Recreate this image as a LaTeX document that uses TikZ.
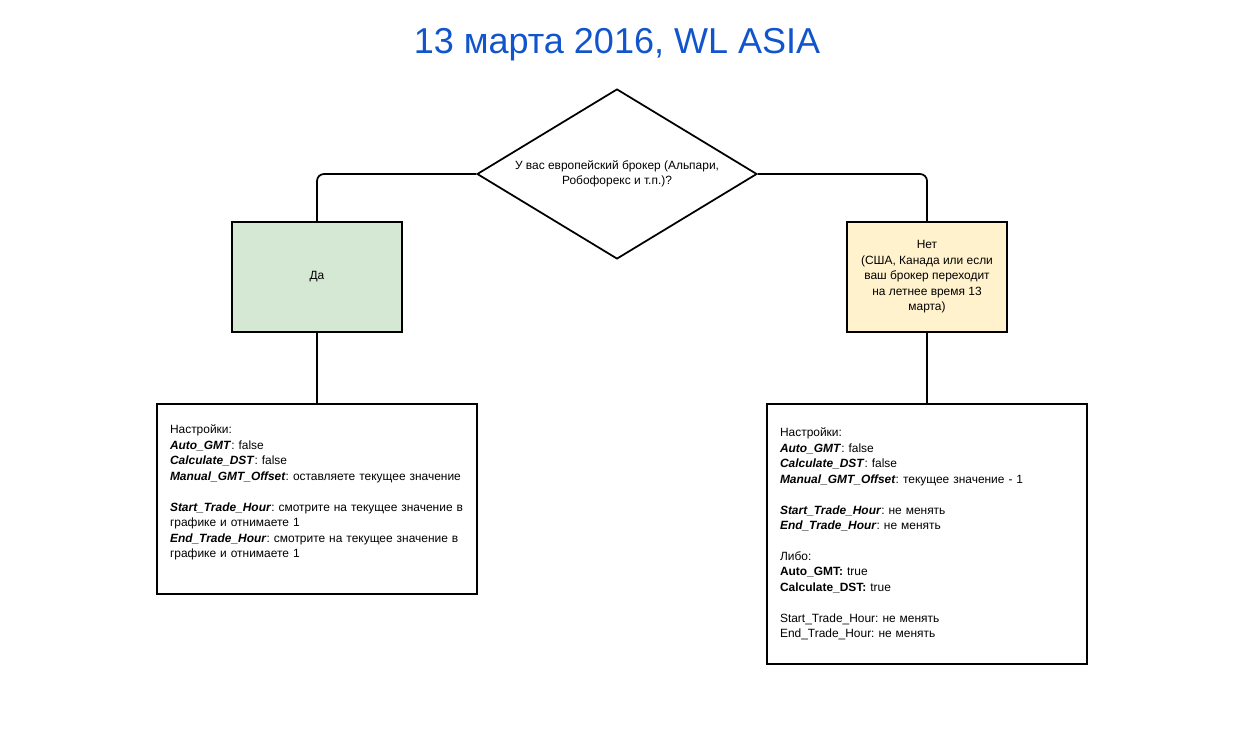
\documentclass[tikz,border=0pt]{standalone}
\usepackage{fontspec}
\setmainfont{Liberation Sans}
\usetikzlibrary{positioning,shapes.geometric}
\definecolor{titleblue}{HTML}{1155CC}
\definecolor{yesgreen}{HTML}{D5E8D4}
\definecolor{noyellow}{HTML}{FFF2CC}
\newcommand{\fld}[1]{\textbf{\textit{#1}}}
\frenchspacing

\begin{document}
\begin{tikzpicture}[x=0.02cm, y=-0.02cm,
  font=\fontsize{6.8}{8.8}\selectfont, line width=1pt,
  decision/.style={draw, diamond, aspect=1.647, minimum width=5.6cm, minimum height=3.4cm, inner sep=0pt, align=center},
  answer/.style={draw, minimum height=2.2cm, align=center},
  settings/.style={draw, text width=5.88cm, inner xsep=0.26cm, align=left}]
\useasboundingbox (0,0) rectangle (1258,750);

% Title
\node[font=\fontsize{20.5}{24}\selectfont, text=titleblue] (title) at (617,45) {13 марта 2016, WL ASIA};

% Question
\node[decision] (q) at (617,174) {У вас европейский брокер (Альпари,\\Робофорекс и т.п.)?};

% Answers
\node[answer, fill=yesgreen, minimum width=3.4cm] (yes) at (317,277) {Да};
\node[answer, fill=noyellow, minimum width=3.2cm] (no) at (927,277)
  {Нет\\(США, Канада или если\\ваш брокер переходит\\на летнее время 13\\марта)};

% Settings
\node[settings, minimum height=3.8cm] (setl) at (317,499) {%
  Настройки:\\
  \fld{Auto\_GMT}: false\\
  \fld{Calculate\_DST}: false\\
  \mbox{\fld{Manual\_GMT\_Offset}: оставляете текущее значение}\\[8.8pt]
  \mbox{\fld{Start\_Trade\_Hour}: смотрите на текущее значение в}\\
  графике и отнимаете 1\\
  \mbox{\fld{End\_Trade\_Hour}: смотрите на текущее значение в}\\
  графике и отнимаете 1\\
  \mbox{}};
\node[settings, minimum height=5.2cm] (setr) at (927,534) {%
  Настройки:\\
  \fld{Auto\_GMT}: false\\
  \fld{Calculate\_DST}: false\\
  \fld{Manual\_GMT\_Offset}: текущее значение - 1\\[8.8pt]
  \fld{Start\_Trade\_Hour}: не менять\\
  \fld{End\_Trade\_Hour}: не менять\\[8.8pt]
  Либо:\\
  \textbf{Auto\_GMT:} true\\
  \textbf{Calculate\_DST:} true\\[8.8pt]
  Start\_Trade\_Hour: не менять\\
  End\_Trade\_Hour: не менять};

% Connectors
\draw[rounded corners=0.14cm] (q.west) -| (yes.north);
\draw[rounded corners=0.14cm] (q.east) -| (no.north);
\draw (yes) -- (setl);
\draw (no) -- (setr);
\end{tikzpicture}
\end{document}
